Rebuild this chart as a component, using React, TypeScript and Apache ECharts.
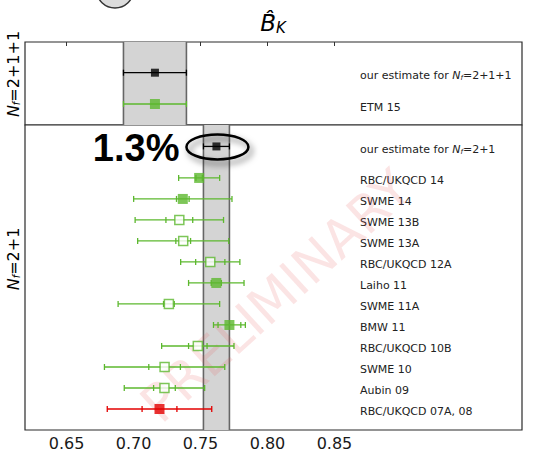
import React, { useEffect, useRef } from "react";
import * as echarts from "echarts";

// x-axis tick labels
const xTicks = [0.65, 0.7, 0.75, 0.8, 0.85];

// N_f = 2+1+1 panel (bottom row first)
const nf4Names = ["ETM 15", "our estimate for {i|N}{s|f}{t|=2+1+1}"];
const nf4Values = [0.716, 0.716];
const nf4Stat = [0, 0];
const nf4Total = [0.0235, 0.0235];
const nf4Style = ["filled", "black"];
const nf4Band = [0.6925, 0.7395];

// N_f = 2+1 panel (bottom row first)
const nf3Names = [
  "RBC/UKQCD 07A, 08",
  "Aubin 09",
  "SWME 10",
  "RBC/UKQCD 10B",
  "BMW 11",
  "SWME 11A",
  "Laiho 11",
  "RBC/UKQCD 12A",
  "SWME 13A",
  "SWME 13B",
  "SWME 14",
  "RBC/UKQCD 14",
  "our estimate for {i|N}{s|f}{t|=2+1}",
];
const nf3Values = [0.7194, 0.7231, 0.7232, 0.7480, 0.7716, 0.7264, 0.7618, 0.7573, 0.7371, 0.7342, 0.7368, 0.7490, 0.7619];
const nf3Stat = [0.013, 0.0081, 0.0118, 0.0069, 0.0085, 0.004, 0.0038, 0.0109, 0.0055, 0.01, 0.0047, 0.0024, 0];
const nf3Total = [0.039, 0.030, 0.0449, 0.027, 0.0119, 0.0379, 0.0207, 0.0221, 0.034, 0.033, 0.0367, 0.0153, 0.0097];
const nf3Style = ["red", "open", "open", "open", "filled", "open", "filled", "open", "open", "open", "filled", "filled", "black"];
const nf3Band = [0.7522, 0.7716];

const estimateGap = 0.5;
const xMin = 0.619;
const xMax = 0.99;

const GREEN = "#5cb82e";
const RED = "#e30000";
const FONT = "DejaVu Sans";

const colorOf = (s: string) => (s === "red" ? RED : s === "black" ? "#000" : GREEN);

const rowsFor = (n: number, lastIsEstimate: boolean) =>
  Array.from({ length: n }, (_, i) => (lastIsEstimate && i === n - 1 ? i + estimateGap : i));

const labelRich = {
  i: { fontFamily: FONT, fontSize: 11, fontStyle: "italic", color: "#222" },
  s: { fontFamily: FONT, fontSize: 7, fontStyle: "italic", color: "#222", padding: [5, 0, 0, 0] },
  t: { fontFamily: FONT, fontSize: 11, color: "#222" },
};

function panelSeries(
  g: number,
  values: number[],
  stat: number[],
  total: number[],
  style: string[],
  band: number[],
  rows: number[]
) {
  const bandSeries = {
    type: "custom",
    xAxisIndex: g,
    yAxisIndex: g,
    z: 1,
    silent: true,
    clip: false,
    data: [[band[0], band[1]]],
    encode: { x: [0, 1] },
    renderItem: (params: any, api: any) => {
      const cs = params.coordSys;
      const x0 = api.coord([api.value(0), rows[0]])[0];
      const x1 = api.coord([api.value(1), rows[0]])[0];
      return {
        type: "group",
        children: [
          { type: "rect", shape: { x: x0, y: cs.y, width: x1 - x0, height: cs.height }, style: { fill: "#d4d4d4" } },
          { type: "line", shape: { x1: x0, y1: cs.y, x2: x0, y2: cs.y + cs.height }, style: { stroke: "#666", lineWidth: 1.6 } },
          { type: "line", shape: { x1: x1, y1: cs.y, x2: x1, y2: cs.y + cs.height }, style: { stroke: "#666", lineWidth: 1.6 } },
        ],
      };
    },
  };
  const errSeries = {
    type: "custom",
    xAxisIndex: g,
    yAxisIndex: g,
    z: 3,
    silent: true,
    clip: false,
    data: values.map((v, i) => [v, rows[i], stat[i], total[i], i]),
    encode: { x: 0, y: 1 },
    renderItem: (params: any, api: any) => {
      const c = api.value(0);
      const r = api.value(1);
      const st = api.value(2);
      const tt = api.value(3);
      const idx = api.value(4);
      const color = colorOf(style[idx]);
      const y = api.coord([c, r])[1];
      const xl = api.coord([c - tt, r])[0];
      const xr = api.coord([c + tt, r])[0];
      const ls = { stroke: color, lineWidth: 1.3 };
      const children: any[] = [
        { type: "line", shape: { x1: xl, y1: y, x2: xr, y2: y }, style: ls },
        { type: "line", shape: { x1: xl, y1: y - 3, x2: xl, y2: y + 3 }, style: ls },
        { type: "line", shape: { x1: xr, y1: y - 3, x2: xr, y2: y + 3 }, style: ls },
      ];
      if (st > 0) {
        const il = api.coord([c - st, r])[0];
        const ir = api.coord([c + st, r])[0];
        children.push({ type: "line", shape: { x1: il, y1: y - 3, x2: il, y2: y + 3 }, style: ls });
        children.push({ type: "line", shape: { x1: ir, y1: y - 3, x2: ir, y2: y + 3 }, style: ls });
      }
      return { type: "group", children };
    },
  };
  const markerSeries = {
    type: "scatter",
    xAxisIndex: g,
    yAxisIndex: g,
    z: 4,
    silent: true,
    symbol: "rect",
    data: values.map((v, i) => {
      const s = style[i];
      const color = colorOf(s);
      return {
        value: [v, rows[i]],
        symbolSize: s === "black" ? 8 : s === "open" ? 9 : 10,
        itemStyle:
          s === "open"
            ? { color: "#fff", borderColor: color, borderWidth: 1.5 }
            : { color, borderWidth: 0 },
      };
    }),
  };
  return [bandSeries, errSeries, markerSeries];
}

function yAxisFor(g: number, names: string[], rows: number[], min: number, max: number) {
  return {
    type: "value",
    gridIndex: g,
    min,
    max,
    axisLine: { show: false, onZero: false },
    axisTick: { show: false },
    splitLine: { show: false },
    axisLabel: {
      inside: true,
      margin: 335,
      align: "left",
      padding: [6, 0, 0, 0],
      customValues: rows,
      fontFamily: FONT,
      fontSize: 11,
      color: "#222",
      rich: labelRich,
      formatter: (v: number) => {
        const k = rows.findIndex((r) => Math.abs(r - v) < 1e-6);
        return k >= 0 ? names[k] : "";
      },
    },
  };
}

export default function App() {
  const ref = useRef<HTMLDivElement>(null);
  useEffect(() => {
    if (!ref.current) return;
    const chart = echarts.init(ref.current, undefined, { renderer: "svg" });
    const rows4 = rowsFor(nf4Names.length, false);
    const rows3 = rowsFor(nf3Names.length, true);
    const gridBase = { left: 25, width: 497, show: true, borderColor: "#2a2a2a", borderWidth: 1.2, backgroundColor: "#fff" };
    chart.setOption({
      animation: false,
      grid: [
        { ...gridBase, top: 42, height: 83 },
        { ...gridBase, top: 125, height: 305 },
      ],
      xAxis: [
        {
          type: "value",
          gridIndex: 0,
          position: "top",
          min: xMin,
          max: xMax,
          axisLine: { show: false, onZero: false },
          splitLine: { show: false },
          axisTick: { show: true, inside: true, length: 4, customValues: xTicks, lineStyle: { color: "#333" } },
          axisLabel: { show: false, customValues: xTicks },
        },
        {
          type: "value",
          gridIndex: 1,
          min: xMin,
          max: xMax,
          axisLine: { show: false, onZero: false },
          splitLine: { show: false },
          axisTick: { show: false },
          axisLabel: {
            customValues: xTicks,
            formatter: (v: number) => v.toFixed(2),
            fontFamily: FONT,
            fontSize: 16,
            color: "#1a1a1a",
            margin: 5,
          },
        },
      ],
      yAxis: [
        yAxisFor(0, nf4Names, rows4, -0.67, 1.98),
        yAxisFor(1, nf3Names, rows3, -1, 13.52),
      ],
      series: [
        ...panelSeries(0, nf4Values, nf4Stat, nf4Total, nf4Style, nf4Band, rows4),
        ...panelSeries(1, nf3Values, nf3Stat, nf3Total, nf3Style, nf3Band, rows3),
      ],
    });

    const last = nf3Values.length - 1;
    const p = chart.convertToPixel({ gridIndex: 1 } as any, [nf3Values[last], rows3[last]]) as number[];
    const cx = p[0] + 1;
    const cy = p[1] + 0.5;
    const sideRich = {
      i: { fontFamily: FONT, fontSize: 16, fontStyle: "italic", color: "#111" },
      s: { fontFamily: FONT, fontSize: 10, fontStyle: "italic", color: "#111", padding: [7, 0, 0, 0] },
      t: { fontFamily: FONT, fontSize: 16, color: "#111" },
    };
    chart.setOption({
      graphic: [
        {
          type: "text",
          z: 2,
          silent: true,
          x: 276,
          y: 296,
          rotation: 0.74,
          style: {
            text: "PRELIMINARY",
            fontFamily: FONT,
            fontSize: 52,
            fill: "rgba(232,90,90,0.16)",
            align: "center",
            verticalAlign: "middle",
          },
        },
        {
          type: "ellipse",
          z: 10,
          silent: true,
          shape: { cx: 115, cy: -9, rx: 18, ry: 17 },
          style: { fill: "#dcdcdc", stroke: "#333", lineWidth: 1.5 },
        },
        {
          type: "text",
          z: 10,
          silent: true,
          x: 273,
          y: 23,
          style: {
            text: "{b|B\u0302}{k|K}",
            align: "center",
            verticalAlign: "middle",
            rich: {
              b: { fontFamily: FONT, fontSize: 23, fontStyle: "italic", color: "#111" },
              k: { fontFamily: FONT, fontSize: 15, fontStyle: "italic", color: "#111", padding: [9, 0, 0, 0] },
            },
          },
        },
        {
          type: "text",
          z: 10,
          silent: true,
          x: 13,
          y: 74,
          rotation: Math.PI / 2,
          style: { text: "{i|N}{s|f}{t|=2+1+1}", align: "center", verticalAlign: "middle", rich: sideRich },
        },
        {
          type: "text",
          z: 10,
          silent: true,
          x: 13,
          y: 259,
          rotation: Math.PI / 2,
          style: { text: "{i|N}{s|f}{t|=2+1}", align: "center", verticalAlign: "middle", rich: sideRich },
        },
        {
          type: "ellipse",
          z: 10,
          silent: true,
          shape: { cx, cy, rx: 31, ry: 12.5 },
          style: {
            fill: "none",
            stroke: "#000",
            lineWidth: 2.5,
            shadowBlur: 6,
            shadowColor: "rgba(0,0,0,0.55)",
            shadowOffsetX: 3,
            shadowOffsetY: 4,
          },
        },
        {
          type: "text",
          z: 10,
          silent: true,
          x: cx - 38,
          y: cy + 1,
          style: {
            text: "1.3%",
            fontFamily: "Liberation Sans",
            fontWeight: "bold",
            fontSize: 38,
            fill: "#000",
            align: "right",
            verticalAlign: "middle",
          },
        },
      ],
    });
    return () => chart.dispose();
  }, []);
  return <div ref={ref} style={{ width: 533, height: 454, position: "absolute", left: 0, top: 0 }} />;
}
